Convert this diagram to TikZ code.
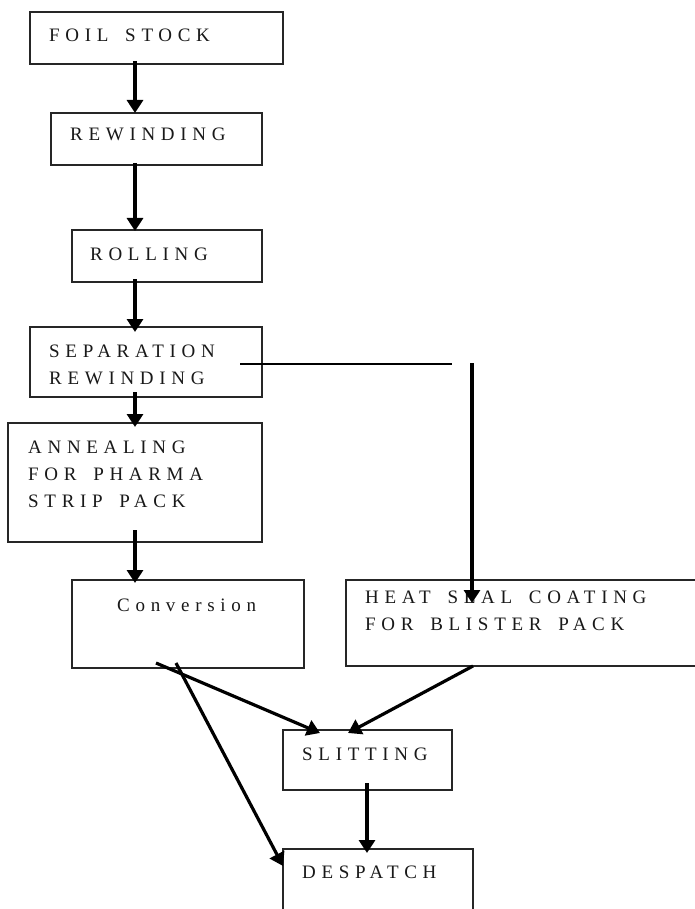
\documentclass[tikz,border=0pt]{standalone}
\usepackage{fontspec}
\setmainfont{Liberation Serif}
\newfontfamily\flowfont[LetterSpace=30,WordSpace=1.6]{Liberation Serif}
\usetikzlibrary{arrows.meta,calc}

% left-aligned rows with a fixed baseline distance; baseline = first row
\newcommand\rowstack[1]{\vtop{\baselineskip=27pt\lineskiplimit=-100pt\lineskip=0pt
  \halign{##\hfil\cr#1\crcr}}}

\tikzset{
  stage/.style={draw=black!85, line width=1.2pt, rectangle, inner sep=0pt,
                outer sep=0pt, anchor=north west},
  steptext/.style={anchor=base west, inner sep=0pt, text=black!90,
                   font=\flowfont\fontsize{19pt}{27pt}\selectfont},
  flow/.style={line width=3.2pt, -{Triangle[length=13pt,width=16pt]}},
  hairline/.style={line width=1.3pt}
}

\begin{document}
\begin{tikzpicture}[x=1pt, y=-1pt]
  \clip (0,0) rectangle (695,909);
  \fill[white] (0,0) rectangle (695,909);

  % process boxes
  \node[stage, minimum width=253pt, minimum height=52pt]  (foil) at (30,12)  {};
  \node[stage, minimum width=211pt, minimum height=52pt]  (rew)  at (51,113) {};
  \node[stage, minimum width=190pt, minimum height=52pt]  (roll) at (72,230) {};
  \node[stage, minimum width=232pt, minimum height=70pt]  (sep)  at (30,327) {};
  \node[stage, minimum width=254pt, minimum height=119pt] (ann)  at (8,423)  {};
  \node[stage, minimum width=232pt, minimum height=88pt]  (conv) at (72,580) {};
  \node[stage, minimum width=380pt, minimum height=86pt]  (heat) at (346,580) {};
  \node[stage, minimum width=169pt, minimum height=60pt]  (slit) at (283,730) {};
  \node[stage, minimum width=190pt, minimum height=90pt]  (desp) at (283,849) {};

  % box captions
  \node[steptext] (foil-t) at (49,42)   {FOIL STOCK};
  \node[steptext] (rew-t)  at (70,141)  {REWINDING};
  \node[steptext] (roll-t) at (90,260)  {ROLLING};
  \node[steptext] (sep-t)  at (49,357)  {\rowstack{SEPARATION\cr REWINDING}};
  \node[steptext] (ann-t)  at (28,453)  {\rowstack{ANNEALING\cr FOR PHARMA\cr STRIP PACK}};
  \node[steptext] (conv-t) at (117,611) {Conversion};
  \node[steptext] (heat-t) at (365,603) {\rowstack{HEAT SEAL COATING\cr FOR BLISTER PACK}};
  \node[steptext] (slit-t) at (302,760) {SLITTING};
  \node[steptext] (desp-t) at (302,878) {DESPATCH};

  % main vertical line of the process
  \coordinate (spine) at (135,0);
  \draw[flow] ($(foil.south -| spine)+(0,-3)$) -- (rew.north -| spine);
  \draw[flow] ($(rew.south -| spine)+(0,-2)$)  -- ($(roll.north -| spine)+(0,1)$);
  \draw[flow] ($(roll.south -| spine)+(0,-3)$) -- ($(sep.north -| spine)+(0,5)$);
  \draw[flow] ($(sep.south -| spine)+(0,-5)$)  -- ($(ann.north -| spine)+(0,4)$);
  \draw[flow] ($(ann.south -| spine)+(0,-12)$) -- ($(conv.north -| spine)+(0,3)$);

  % branch towards heat seal coating
  \coordinate (tap)    at ($(sep.north west)+(210,37)$);
  \coordinate (tapend) at (452,364);
  \coordinate (drop)   at (472,363);
  \draw[hairline] (tap) -- (tapend);
  \draw[flow] (drop) -- ($(heat.north west)+(126,23)$);

  % converging lines into slitting and despatch
  \draw[flow] ($(conv.south west)+(84,-5)$)  -- ($(slit.north west)+(37,3)$);
  \draw[flow] ($(conv.south west)+(104,-5)$) -- ($(desp.north west)+(0,17)$);
  \draw[flow] ($(heat.south west)+(127,0)$)  -- ($(slit.north west)+(65,3)$);
  \draw[flow] ($(slit.south west)+(84,-7)$)  -- ($(desp.north west)+(84,4)$);
\end{tikzpicture}
\end{document}
